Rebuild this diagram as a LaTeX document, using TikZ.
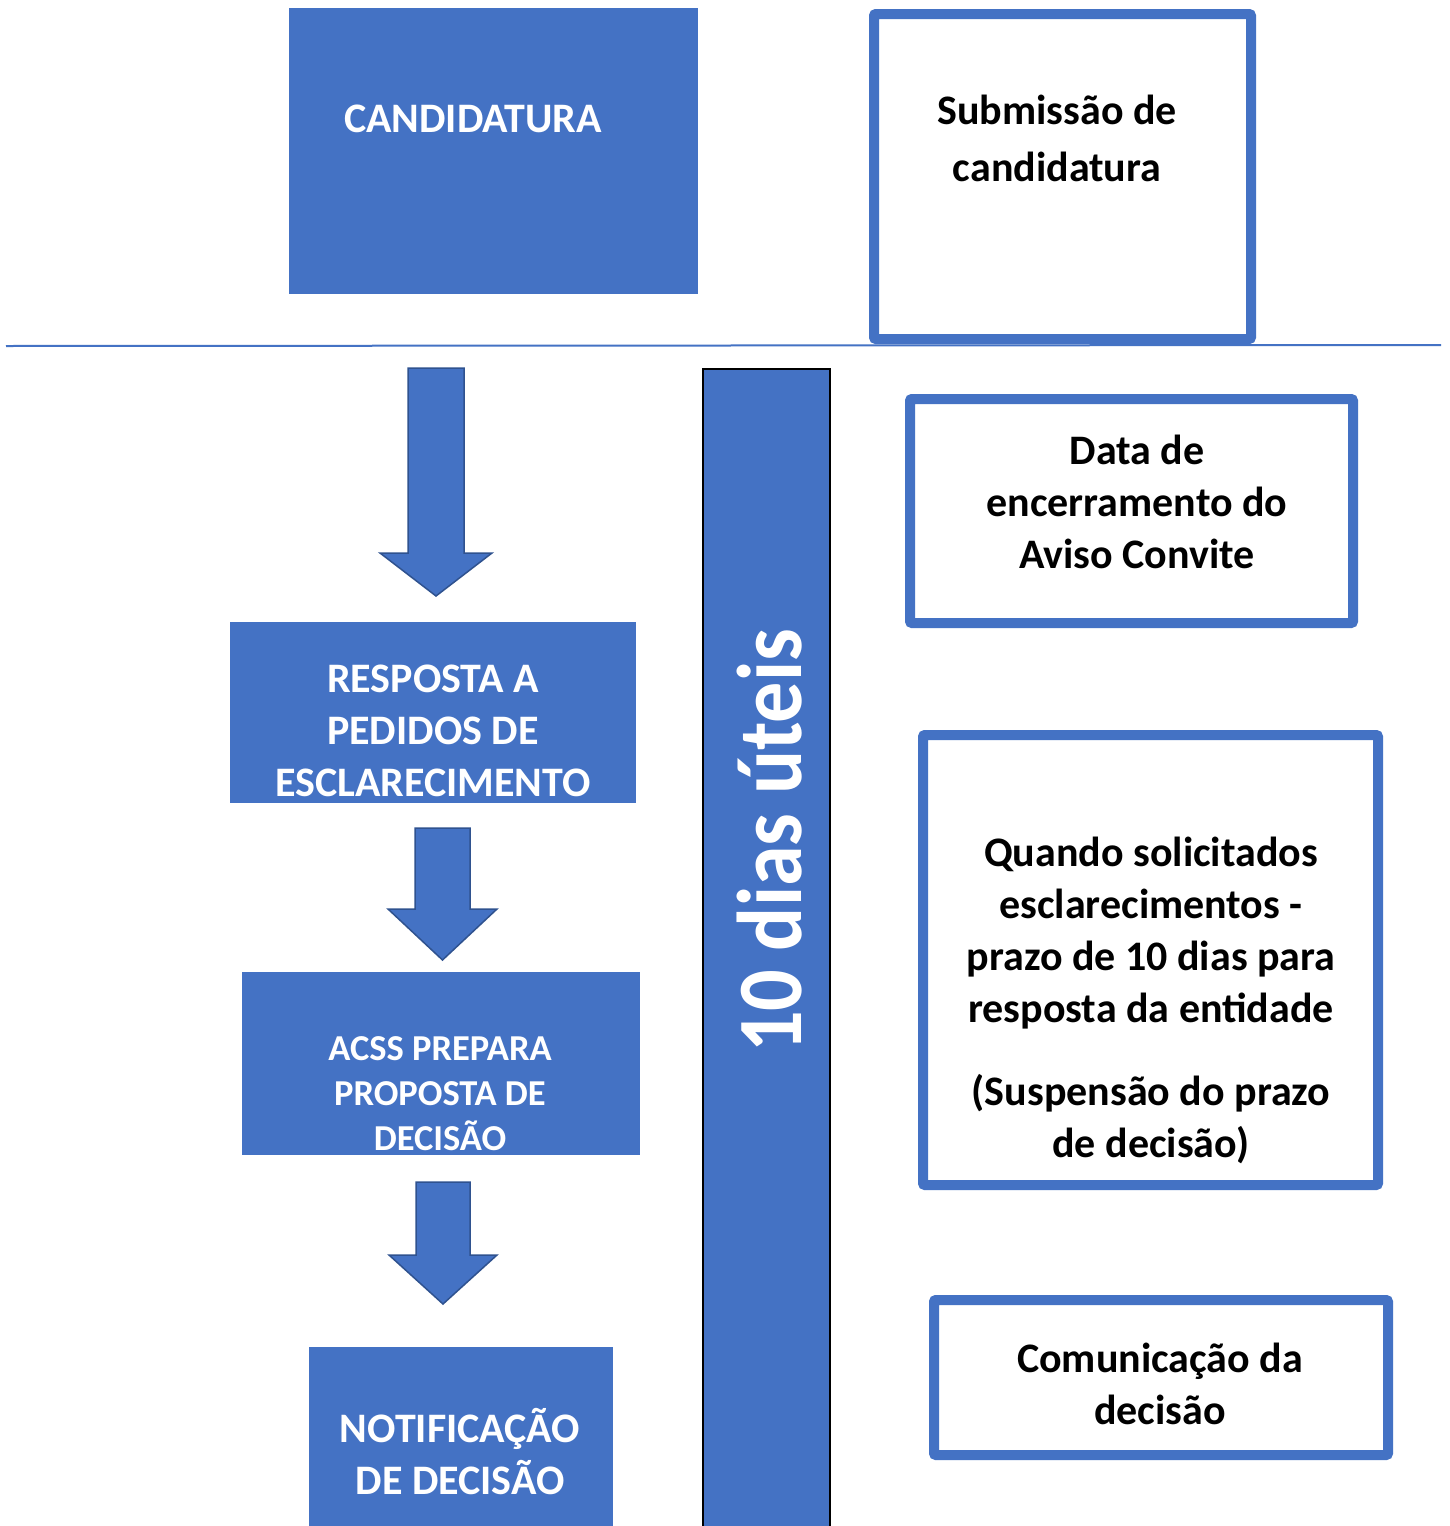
\documentclass[tikz,border=0pt]{standalone}
\usepackage{fontspec}
\setmainfont{Carlito}
\definecolor{boxblue}{HTML}{4472C4}
\definecolor{edgeblue}{HTML}{2F528F}

\begin{document}
\begin{tikzpicture}[
            x = 1pt, y = -1pt,
            filled/.style = {fill = boxblue, inner sep = 0pt},
            framed/.style = {draw = boxblue, line width = 10pt, rounded corners = 2pt, inner sep = 0pt},
            whitetext/.style = {text = white, align = center, font = \fontsize{42}{52}\selectfont\bfseries},
            blacktext/.style = {text = black, align = center, font = \fontsize{42}{52}\selectfont\bfseries},
            bigarrow/.style = {fill = boxblue, draw = edgeblue, line width = 1.5pt}
            ]
            \fill[white] (0,0) rectangle (1449,1526);
            \useasboundingbox (0,0) rectangle (1449,1526);

            % top row
            \node[filled, minimum width = 409pt, minimum height = 286pt] (cand) at (493.5,151) {};
            \node[whitetext] (candtext) at (473,119) {CANDIDATURA};
            \node[framed, minimum width = 377pt, minimum height = 325pt] (subm) at (1062.5,176.5) {};
            \node[blacktext, font = \fontsize{42}{57}\selectfont\bfseries] (submtext) at (1057,138) {Submissão de\\candidatura};

            \coordinate (lineleft) at (6,346);
            \coordinate (lineright) at (1441,345);
            \draw[boxblue, line width = 2pt] (lineleft) -- (lineright);

            % left column
            \node[filled, minimum width = 406pt, minimum height = 181pt] (resp) at (433,712.5) {};
            \node[whitetext] (resptext) at (433,731) {RESPOSTA A\\PEDIDOS DE\\ESCLARECIMENTO};
            \node[filled, minimum width = 398pt, minimum height = 183pt] (acss) at (441,1063.5) {};
            \node[whitetext, font = \fontsize{36.5}{45}\selectfont\bfseries] (acsstext) at (440,1094) {ACSS PREPARA\\PROPOSTA DE\\DECISÃO};
            \node[filled, minimum width = 304pt, minimum height = 190pt, anchor = north] (notif) at (461,1347) {};
            \node[whitetext] (notiftext) at (460,1452) {NOTIFICAÇÃO\\DE DECISÃO};

            \foreach \cx/\ya/\yb/\yc/\sh/\hh in {436/368/553/596/28/56, 442.5/828/909/960/27.5/54.5, 443/1182/1255/1304/27/54}
                \draw[bigarrow] (\cx-\sh,\ya) -- (\cx+\sh,\ya) -- (\cx+\sh,\yb) -- (\cx+\hh,\yb)
                    -- (\cx,\yc) -- (\cx-\hh,\yb) -- (\cx-\sh,\yb) -- cycle;

            % time bar
            \node[filled, draw = black, line width = 1.5pt, minimum width = 127pt, minimum height = 1170pt, anchor = north] (bar) at (766.5,368) {};
            \node[text = white, rotate = 90, font = \fontsize{92}{110}\selectfont\bfseries] (bartext) at (770,841) {\scalebox{0.893}[1]{10 dias úteis}};

            % right column
            \node[framed, minimum width = 443pt, minimum height = 224pt] (data) at (1131.5,511) {};
            \node[blacktext] (datatext) at (1137,502) {Data de\\encerramento do\\Aviso Convite};
            \node[framed, minimum width = 455pt, minimum height = 450pt] (quando) at (1150.5,960) {};
            \node[blacktext] (quandotext) at (1151,1000) {Quando solicitados\\esclarecimentos -\\prazo de 10 dias para\\resposta da entidade\\[31pt](Suspensão do prazo\\de decisão)};
            \node[framed, minimum width = 454pt, minimum height = 155pt] (comm) at (1161,1377.5) {};
            \node[blacktext] (commtext) at (1160,1384) {Comunicação da\\decisão};
          \end{tikzpicture}
\end{document}
